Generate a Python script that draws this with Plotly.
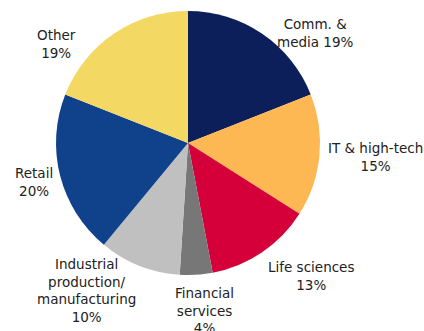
import plotly.graph_objects as go

labels = ["Comm. & media", "IT & high-tech", "Life sciences", "Financial services",
          "Industrial production/manufacturing", "Retail", "Other"]
values = [19, 15, 13, 4, 10, 20, 19]
colors = ["#0c1f5b", "#fdb853", "#d5003a", "#777777", "#c0c0c0", "#10428c", "#f4d864"]
label_text = ["Comm. &<br>media 19%", "IT & high-tech<br>15%", "Life sciences<br>13%",
              "Financial<br>services<br>4%", "Industrial<br>production/<br>manufacturing<br>10%",
              "Retail<br>20%", "Other<br>19%"]
# label block centres in pixels (x, y from top)
label_pos = [(315, 33), (375, 157), (311, 276), (204, 310), (86, 290), (34, 182), (56, 44)]

W, H = 424, 331
fig = go.Figure(go.Pie(
    labels=labels, values=values, sort=False, direction="clockwise", rotation=0,
    marker=dict(colors=colors, line=dict(width=0)), textinfo="none", hoverinfo="label+percent",
    domain=dict(x=[56 / W, 320 / W], y=[1 - 275 / H, 1 - 11 / H]), showlegend=False,
))
for t, (px, py) in zip(label_text, label_pos):
    fig.add_annotation(x=px / W, y=1 - py / H, xref="paper", yref="paper", text=t,
                       showarrow=False, xanchor="center", yanchor="middle",
                       font=dict(family="DejaVu Sans", size=13.5, color="#222"))
fig.update_layout(width=W, height=H, margin=dict(l=0, r=0, t=0, b=0),
                  paper_bgcolor="white", plot_bgcolor="white")
fig.write_html("out.html")
